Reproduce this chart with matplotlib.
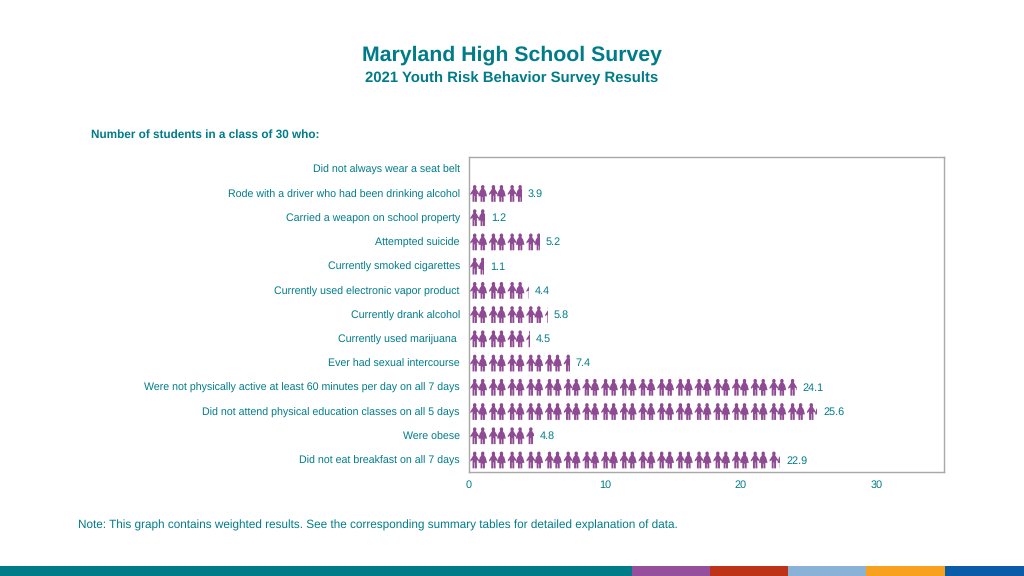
import matplotlib
matplotlib.use("Agg")
import matplotlib.pyplot as plt
from matplotlib.patches import PathPatch, Rectangle
from matplotlib.path import Path
from matplotlib.transforms import Affine2D

plt.rcParams['font.family'] = ['Liberation Sans', 'DejaVu Sans']
plt.rcParams['text.hinting'] = 'no_hinting'

# Dane z wykresu
categories = ["Did not always wear a seat belt",
              "Rode with a driver who had been drinking alcohol",
              "Carried a weapon on school property",
              "Attempted suicide",
              "Currently smoked cigarettes",
              "Currently used electronic vapor product",
              "Currently drank alcohol",
              "Currently used marijuana ",
              "Ever had sexual intercourse",
              "Were not physically active at least 60 minutes per day on all 7 days",
              "Did not attend physical education classes on all 5 days",
              "Were obese",
              "Did not eat breakfast on all 7 days"]
values = [None, 3.9, 1.2, 5.2, 1.1, 4.4, 5.8, 4.5, 7.4, 24.1, 25.6, 4.8, 22.9]
x_ticks = [0, 10, 20, 30]
band_colors = ["#007C89", "#96509B", "#BE3218", "#8AB2D6", "#F7A11F", "#0A5CA8"]
band_edges = [0, 632, 710, 788, 866, 945, 1024]

teal = "#007C89"
icon_color = "#8E4A93"
pair_period = 1.375  # szerokosc pary ikon w jednostkach osi

# Ksztalty ikon (x -1..1, y -1..1, gora = 1)
man_body = [(-0.22, 0.62), (-1, -0.02), (-1, -0.2), (-0.5, -0.02), (-0.5, -1),
            (-0.06, -1), (-0.06, -0.3), (0.06, -0.3), (0.06, -1), (0.5, -1),
            (0.5, -0.02), (1, -0.2), (1, -0.02), (0.22, 0.62), (-0.22, 0.62)]
woman_body = [(-0.22, 0.62), (-0.7, 0.25), (-1, -0.35), (-0.5, -0.35), (-0.5, -1),
              (-0.06, -1), (-0.06, -0.45), (0.06, -0.45), (0.06, -1), (0.5, -1),
              (0.5, -0.35), (1, -0.35), (0.7, 0.25), (0.22, 0.62), (-0.22, 0.62)]
head = Path.unit_circle().transformed(Affine2D().scale(0.4, 0.23).translate(0, 0.75))
man = Path.make_compound_path(Path(man_body, closed=True), head)
woman = Path.make_compound_path(Path(woman_body, closed=True), head)


def draw_icons(ax, row, value):
    # pasek niewidoczny - przycina ikony do wartosci
    clip = Rectangle((0, row - 0.5), value, 1, transform=ax.transData)
    n = 0
    x = 0.42
    while x - 0.4 < value:
        shape = man if n % 2 == 0 else woman
        tr = Affine2D().scale(0.32, -0.35).translate(x, row)
        patch = PathPatch(shape.transformed(tr), facecolor=icon_color, edgecolor="none", zorder=3)
        ax.add_patch(patch)
        patch.set_clip_path(clip)
        n += 1
        x = 0.42 + (n // 2) * pair_period + (n % 2) * 0.59


fig = plt.figure(figsize=(10.24, 5.76), dpi=100)
ax = fig.add_axes([469 / 1024, 1 - 472 / 576, 475 / 1024, 315 / 576])
ax.set_xlim(0, 34.93)
ax.set_ylim(len(categories) - 0.5, -0.5)

for i, v in enumerate(values):
    if v is None:
        continue
    draw_icons(ax, i, v)
    ax.annotate(f"{v}", (v, i), xytext=(4.2, -0.5), textcoords="offset points",
                va="center", ha="left", fontsize=7.8, color=teal)

ax.set_yticks(range(len(categories)))
ax.set_yticklabels(categories, fontsize=7.62, color=teal, va="center_baseline")
ax.set_xticks(x_ticks)
ax.tick_params(axis='y', length=0, pad=6.6)
ax.tick_params(axis='x', length=0, pad=5.9, labelsize=7.8, labelcolor=teal)
for s in ax.spines.values():
    s.set_color("#A8A8A8")
    s.set_linewidth(1.0)

fig.text(512 / 1024, 1 - 55 / 576, "Maryland High School Survey", ha="center", va="center",
         fontsize=15.3, fontweight="bold", color=teal)
fig.text(512 / 1024, 1 - 78 / 576, "2021 Youth Risk Behavior Survey Results", ha="center", va="center",
         fontsize=10.7, fontweight="bold", color=teal)
fig.text(91 / 1024, 1 - 135 / 576, "Number of students in a class of 30 who:", ha="left", va="center",
         fontsize=8.47, fontweight="bold", color=teal)
fig.text(78 / 1024, 1 - 525.5 / 576,
         "Note: This graph contains weighted results. See the corresponding summary tables for detailed explanation of data.",
         ha="left", va="center", fontsize=8.46, color=teal)

# Pasek na dole
for c, left, right in zip(band_colors, band_edges[:-1], band_edges[1:]):
    fig.add_artist(Rectangle((left / 1024, 0), (right - left) / 1024, 10 / 576,
                             transform=fig.transFigure, facecolor=c, edgecolor="none"))

fig.savefig("out.png", dpi=100)
